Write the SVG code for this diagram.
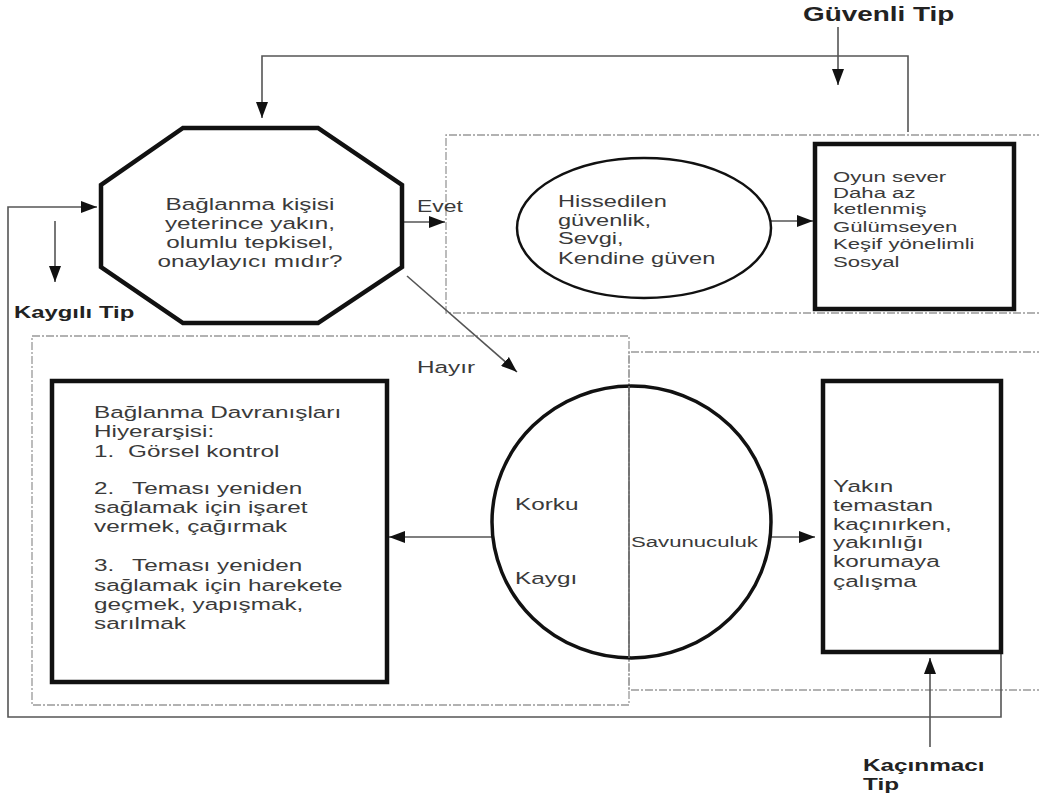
<svg xmlns="http://www.w3.org/2000/svg" width="1039" height="799" viewBox="0 0 1039 799">
<style>
.t{font-family:"Liberation Sans",Arial,sans-serif;font-size:17px;fill:#3a3a3a}
.b{font-family:"Liberation Sans",Arial,sans-serif;font-weight:bold;fill:#222}
.thick{fill:none;stroke:#111;stroke-width:4.5}
.conn{fill:none;stroke:#555;stroke-width:1.6}
.dash{fill:none;stroke:#999;stroke-width:1.3;stroke-dasharray:8 2 2 2}
</style>
<defs>
<marker id="ah" viewBox="0 0 16 12" refX="16" refY="6" markerWidth="16" markerHeight="12" markerUnits="userSpaceOnUse" orient="auto">
<path d="M0,0 L16,6 L0,12 z" fill="#111"/>
</marker>
</defs>
<rect width="1039" height="799" fill="#fff"/>

<g id="regions">
<path class="dash" d="M1045,135 H446 V313 H1045"/>
<rect class="dash" x="32" y="336" width="597" height="369"/>
<path class="dash" d="M1045,352 H629 V690 H1045"/>
</g>

<g id="connectors">
<path class="conn" d="M908,132 V56 H262 V118" marker-end="url(#ah)"/>
<path class="conn" d="M838,27 V85" marker-end="url(#ah)"/>
<path class="conn" d="M1001,654 V717 H8 V207 H97" marker-end="url(#ah)"/>
<path class="conn" d="M55,221 V282" marker-end="url(#ah)"/>
<path class="conn" d="M402,222 H445" marker-end="url(#ah)"/>
<path class="conn" d="M407,276 L517,372" marker-end="url(#ah)"/>
<path class="conn" d="M771,221 H813" marker-end="url(#ah)"/>
<path class="conn" d="M492,537 H389" marker-end="url(#ah)"/>
<path class="conn" d="M771,537 H815" marker-end="url(#ah)"/>
<path class="conn" d="M930,747 V658" marker-end="url(#ah)"/>
</g>

<g id="question">
<polygon class="thick" points="183,128 318,128 402,185 402,267 318,323 183,323 101,267 101,185"/>
<text class="t" text-anchor="middle" transform="translate(250,210) scale(1.43,1)"><tspan x="0" y="0">Bağlanma kişisi</tspan><tspan x="0" y="19">yeterince yakın,</tspan><tspan x="0" y="38">olumlu tepkisel,</tspan><tspan x="0" y="57">onaylayıcı mıdır?</tspan></text>
</g>

<g id="guven">
<ellipse cx="644" cy="228" rx="127" ry="70" fill="none" stroke="#111" stroke-width="2.5"/>
<text class="t" style="font-size:16.5px" transform="translate(558,207) scale(1.43,1)"><tspan x="0" y="0">Hissedilen</tspan><tspan x="0" y="19">güvenlik,</tspan><tspan x="0" y="37">Sevgi,</tspan><tspan x="0" y="57">Kendine güven</tspan></text>
</g>

<g id="guvenli-davranis">
<rect class="thick" x="815" y="144" width="199" height="165"/>
<text class="t" style="font-size:15.5px" transform="translate(833,182) scale(1.43,1)"><tspan x="0" y="0">Oyun sever</tspan><tspan x="0" y="16">Daha az</tspan><tspan x="0" y="32">ketlenmiş</tspan><tspan x="0" y="50">Gülümseyen</tspan><tspan x="0" y="67">Keşif yönelimli</tspan><tspan x="0" y="85">Sosyal</tspan></text>
</g>

<g id="duygu">
<ellipse cx="631.5" cy="522" rx="139.5" ry="136" fill="none" stroke="#111" stroke-width="3.5"/>
<line x1="629" y1="386" x2="629" y2="658" stroke="#666" stroke-width="1.6"/>
<text class="t" transform="translate(515,510) scale(1.43,1)">Korku</text>
<text class="t" transform="translate(515,584) scale(1.43,1)">Kaygı</text>
<text class="t" style="font-size:15.5px" transform="translate(631,547) scale(1.43,1)">Savunuculuk</text>
</g>

<g id="hiyerarsi">
<rect class="thick" x="52" y="381" width="335" height="301"/>
<text class="t" transform="translate(94,418) scale(1.43,1)"><tspan x="0" y="0">Bağlanma Davranışları</tspan><tspan x="0" y="19">Hiyerarşisi:</tspan><tspan x="0" y="39">1.</tspan><tspan x="23.8" y="39">Görsel kontrol</tspan><tspan x="0" y="76">2.</tspan><tspan x="26.6" y="76">Teması yeniden</tspan><tspan x="0" y="95">sağlamak için işaret</tspan><tspan x="0" y="114">vermek, çağırmak</tspan><tspan x="0" y="153">3.</tspan><tspan x="26.6" y="153">Teması yeniden</tspan><tspan x="0" y="173">sağlamak için harekete</tspan><tspan x="0" y="192">geçmek, yapışmak,</tspan><tspan x="0" y="211">sarılmak</tspan></text>
</g>

<g id="kacinma">
<rect class="thick" x="823" y="381" width="178" height="271"/>
<text class="t" transform="translate(833,492) scale(1.43,1)"><tspan x="0" y="0">Yakın</tspan><tspan x="0" y="19">temastan</tspan><tspan x="0" y="38">kaçınırken,</tspan><tspan x="0" y="56">yakınlığı</tspan><tspan x="0" y="75">korumaya</tspan><tspan x="0" y="95">çalışma</tspan></text>
</g>

<g id="labels">
<text class="t" style="font-size:16px" transform="translate(417,212) scale(1.43,1)">Evet</text>
<text class="t" transform="translate(417,373) scale(1.43,1)">Hayır</text>
<text class="b" style="font-size:16.7px" transform="translate(14,318) scale(1.43,1)">Kaygılı Tip</text>
<text class="b" style="font-size:19.5px" transform="translate(803,21) scale(1.43,1)">Güvenli Tip</text>
<text class="b" style="font-size:17px" transform="translate(863,771) scale(1.43,1)"><tspan x="0" y="0">Kaçınmacı</tspan><tspan x="0" y="19">Tip</tspan></text>
</g>
</svg>
